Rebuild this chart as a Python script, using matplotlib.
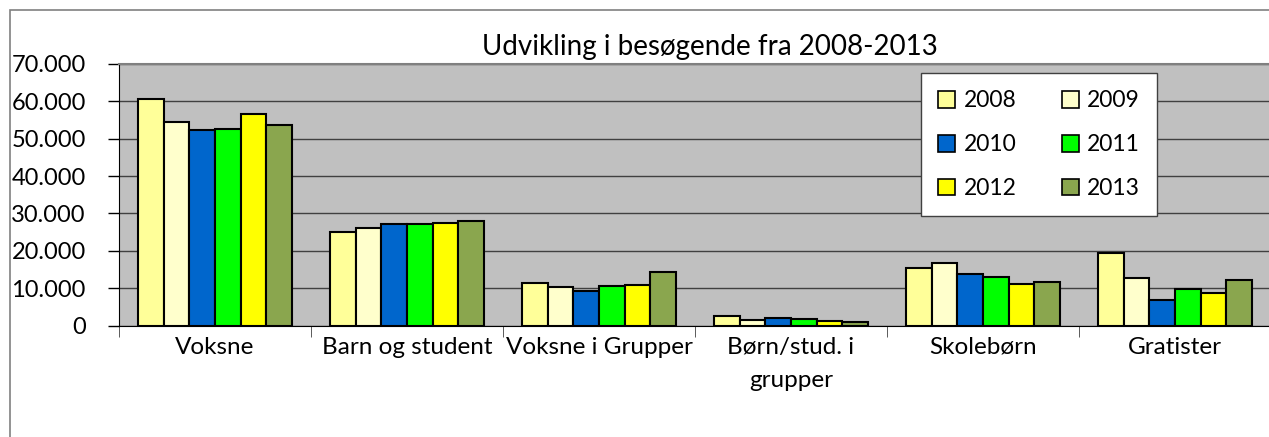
import matplotlib
matplotlib.use("Agg")
import matplotlib.pyplot as plt
from matplotlib.patches import Patch, Rectangle
from matplotlib.ticker import FuncFormatter
import numpy as np

# ============================
# Data
# ============================
categories = ["Voksne", "Barn og student", "Voksne i Grupper",
              "Børn/stud. i\ngrupper", "Skolebørn", "Gratister"]
years = ["2008", "2009", "2010", "2011", "2012", "2013"]

v2008 = [60550, 25100, 11450, 2600, 15300, 19500]
v2009 = [54400, 26000, 10400, 1550, 16800, 12800]
v2010 = [52300, 27150, 9150, 2100, 13850, 6850]
v2011 = [52500, 27100, 10650, 1850, 13050, 9700]
v2012 = [56700, 27350, 10750, 1200, 11100, 8600]
v2013 = [53750, 27900, 14250, 850, 11550, 12200]
series = [v2008, v2009, v2010, v2011, v2012, v2013]

colors = ["#FFFF99", "#FFFFCC", "#0066CC", "#00FF00", "#FFFF00", "#8AA64E"]

plt.rcParams["font.family"] = ["Lato", "DejaVu Sans"]

W, H = 1269, 437
fig = plt.figure(figsize=(W / 100, H / 100), dpi=100)

# chart border (only left/top visible in the crop)
fig.patches.append(Rectangle((10 / W, -0.1), 1.2, (H - 10) / H + 0.1,
                             transform=fig.transFigure, fill=False,
                             edgecolor="#808080", linewidth=1.2))

x0, x1, ytop, ybot = 119, 1271, 64, 325.5
ax = fig.add_axes([x0 / W, (H - ybot) / H, (x1 - x0) / W, (ybot - ytop) / H])
ax.set_facecolor("#C0C0C0")

n = len(categories)
x = np.arange(n)
bw = 0.134
for i, (vals, c) in enumerate(zip(series, colors)):
    ax.bar(x + (i - 2.5) * bw, vals, width=bw, color=c, edgecolor="black",
           linewidth=1.5, label=years[i], zorder=3)

ax.set_xlim(-0.5, n - 0.5)
ax.set_ylim(0, 70000)
ax.set_yticks(np.arange(0, 70001, 10000))
ax.yaxis.set_major_formatter(FuncFormatter(lambda v, p: f"{int(v):,}".replace(",", ".")))
ax.grid(axis="y", color="#404040", linewidth=1.0, zorder=1)
ax.set_axisbelow(True)

ax.set_xticks(x)
ax.set_xticklabels(categories, linespacing=1.7)
ax.set_xticks(np.arange(-0.5, n, 1), minor=True)
ax.tick_params(axis="x", which="major", length=0, pad=8, labelsize=17.5)
ax.tick_params(axis="x", which="minor", length=8, color="#404040", direction="out")
ax.tick_params(axis="y", length=8, width=1, direction="out", pad=16, labelsize=17)

ax.spines["right"].set_visible(False)
ax.spines["top"].set_color("#808080")
ax.spines["top"].set_linewidth(1.5)
ax.spines["left"].set_color("black")
ax.spines["bottom"].set_color("black")

fig.text(710 / W, 1 - 47 / H, "Udvikling i besøgende fra 2008-2013",
         ha="center", va="center", fontsize=20)

# legend filled row by row: matplotlib fills columns, so reorder
order = [0, 2, 4, 1, 3, 5]
handles = [Patch(facecolor=colors[k], edgecolor="black", linewidth=1.2) for k in order]
labels = [years[k] for k in order]
leg = ax.legend(handles, labels, ncol=2, loc="upper left",
                bbox_to_anchor=(921 / W, 1 - 73 / H), bbox_transform=fig.transFigure,
                fontsize=16.5, frameon=True, fancybox=False, framealpha=1,
                edgecolor="#404040", handlelength=0.75, handleheight=0.75,
                handletextpad=0.35, columnspacing=2.0, labelspacing=1.0,
                borderpad=0.75, borderaxespad=0)
leg.get_frame().set_linewidth(1.0)
leg.set_zorder(5)

fig.savefig("out.png", dpi=100)
